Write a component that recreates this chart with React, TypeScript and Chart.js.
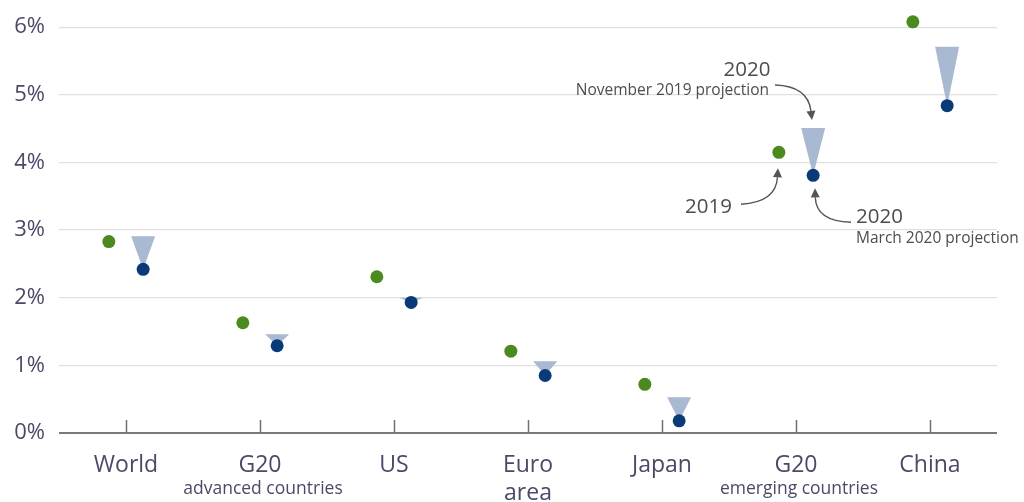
import React, { useEffect, useRef } from 'react';
import { Chart, registerables } from 'chart.js';

Chart.register(...registerables);

const categories: string[][] = [['World'], ['G20'], ['US'], ['Euro', 'area'], ['Japan'], ['G20'], ['China']];
const subLabels: string[] = ['', 'advanced countries', '', '', '', 'emerging countries', ''];
const growth2019: number[] = [2.83, 1.63, 2.31, 1.21, 0.72, 4.15, 6.08];
const projMarch2020: number[] = [2.42, 1.29, 1.93, 0.85, 0.18, 3.81, 4.84];
const projNov2019: number[] = [2.91, 1.46, 2.0, 1.06, 0.53, 4.51, 5.71];
const yTicks: number[] = [0, 1, 2, 3, 4, 5, 6];

const GREEN = '#4b8a1f';
const NAVY = '#0a3a78';
const WEDGE = '#a9b9d1';
const LABEL = '#4a4a68';
const NOTE = '#4d4d4d';
const FONT = "'Open Sans', 'Noto Sans', sans-serif";
const OFF = 0.128;

function arrow(ctx: CanvasRenderingContext2D, sx: number, sy: number, cpx: number, cpy: number, ex: number, ey: number) {
  ctx.save();
  ctx.strokeStyle = '#555';
  ctx.fillStyle = '#555';
  ctx.lineWidth = 1.4;
  const ang = Math.atan2(ey - cpy, ex - cpx);
  const len = 9;
  const bx = ex - Math.cos(ang) * len;
  const by = ey - Math.sin(ang) * len;
  ctx.beginPath();
  ctx.moveTo(sx, sy);
  ctx.quadraticCurveTo(cpx, cpy, bx, by);
  ctx.stroke();
  ctx.beginPath();
  ctx.moveTo(ex, ey);
  ctx.lineTo(bx + Math.sin(ang) * 4.5, by - Math.cos(ang) * 4.5);
  ctx.lineTo(bx - Math.sin(ang) * 4.5, by + Math.cos(ang) * 4.5);
  ctx.closePath();
  ctx.fill();
  ctx.restore();
}

const decorPlugin = {
  id: 'decor',
  beforeDatasetsDraw(chart: any) {
    const { ctx, scales } = chart;
    const xs = scales.x, ys = scales.y;
    ctx.save();
    ctx.fillStyle = WEDGE;
    projNov2019.forEach((v, i) => {
      const xp = xs.getPixelForValue(i + OFF);
      const yTop = ys.getPixelForValue(v);
      const yTip = ys.getPixelForValue(projMarch2020[i]);
      ctx.beginPath();
      ctx.moveTo(xp - 12, yTop);
      ctx.lineTo(xp + 12, yTop);
      ctx.lineTo(xp, yTip);
      ctx.closePath();
      ctx.fill();
    });
    ctx.restore();
  },
  afterDraw(chart: any) {
    const { ctx, scales, chartArea } = chart;
    const xs = scales.x, ys = scales.y;
    ctx.save();
    // tick marks
    ctx.strokeStyle = '#707070';
    ctx.lineWidth = 1.5;
    categories.forEach((_, i) => {
      const p = Math.round(xs.getPixelForValue(i)) + 0.5;
      ctx.beginPath();
      ctx.moveTo(p, chartArea.bottom - 13);
      ctx.lineTo(p, chartArea.bottom);
      ctx.stroke();
    });
    // sub labels
    ctx.fillStyle = LABEL;
    ctx.font = `17.5px ${FONT}`;
    ctx.textAlign = 'center';
    ctx.textBaseline = 'middle';
    subLabels.forEach((s, i) => {
      if (!s) return;
      ctx.fillText(s, xs.getPixelForValue(i) + 3, chartArea.bottom + 56);
    });
    // annotations around G20 emerging
    const k = 5;
    const cx = xs.getPixelForValue(k);
    const yTop = ys.getPixelForValue(projNov2019[k]);
    const yG = ys.getPixelForValue(growth2019[k]);
    const yB = ys.getPixelForValue(projMarch2020[k]);
    ctx.fillStyle = NOTE;
    ctx.font = `20.5px ${FONT}`;
    ctx.textAlign = 'center';
    ctx.fillText('2020', cx - 49, yTop - 58);
    ctx.font = `15.5px ${FONT}`;
    ctx.textAlign = 'right';
    ctx.fillText('November 2019 projection', cx - 27, yTop - 37);
    arrow(ctx, cx - 21, yTop - 43, cx + 12, yTop - 42, cx + 16, yTop - 8);

    ctx.font = `20.5px ${FONT}`;
    ctx.textAlign = 'right';
    ctx.fillText('2019', cx - 64, yG + 55);
    arrow(ctx, cx - 55, yG + 52, cx - 20, yG + 50, cx - 18, yG + 16);

    ctx.textAlign = 'left';
    ctx.fillText('2020', cx + 60, yB + 42);
    ctx.font = `15.5px ${FONT}`;
    ctx.fillText('March 2020 projection', cx + 60, yB + 63);
    arrow(ctx, cx + 55, yB + 47, cx + 20, yB + 46, cx + 19, yB + 13);
    ctx.restore();
  },
};

export default function App() {
  const ref = useRef<HTMLCanvasElement | null>(null);
  useEffect(() => {
    document.body.style.margin = '0';
    const canvas = ref.current!;
    const chart = new Chart(canvas, {
      type: 'scatter',
      data: {
        datasets: [
          {
            label: '2019',
            data: growth2019.map((v, i) => ({ x: i - OFF, y: v })),
            backgroundColor: GREEN,
            borderWidth: 0,
            pointRadius: 6.5,
            clip: false as any,
          },
          {
            label: '2020 (March 2020 projection)',
            data: projMarch2020.map((v, i) => ({ x: i + OFF, y: v })),
            backgroundColor: NAVY,
            borderWidth: 0,
            pointRadius: 6.5,
            clip: false as any,
          },
        ],
      },
      options: {
        responsive: false,
        animation: false,
        layout: { padding: { top: 25, right: 27, left: 0, bottom: 0 } },
        plugins: { legend: { display: false }, tooltip: { enabled: false } },
        scales: {
          x: {
            type: 'linear',
            min: -0.5,
            max: 6.5,
            afterBuildTicks: (s: any) => {
              s.ticks = categories.map((_, i) => ({ value: i }));
            },
            afterFit: (s: any) => {
              s.height = 69;
            },
            grid: { display: false, drawTicks: false, tickLength: 0 },
            border: { display: false },
            ticks: {
              padding: 19,
              maxRotation: 0,
              autoSkip: false,
              color: LABEL,
              font: { family: FONT, size: 23 },
              callback: (v: any) => categories[Math.round(Number(v))] as any,
            },
          },
          y: {
            min: 0,
            max: 6,
            afterBuildTicks: (s: any) => {
              s.ticks = yTicks.map((v) => ({ value: v }));
            },
            afterFit: (s: any) => {
              s.width = 59;
            },
            grid: {
              drawTicks: false,
              color: (c: any) => (c.tick && c.tick.value === 0 ? '#7a7a7a' : '#e0e0e0'),
              lineWidth: (c: any) => (c.tick && c.tick.value === 0 ? 2 : 1.3),
            },
            border: { display: false },
            ticks: {
              padding: 14,
              color: LABEL,
              font: { family: FONT, size: 22 },
              callback: (v: any) => `${v}%`,
            },
          },
        },
      },
      plugins: [decorPlugin],
    });
    return () => chart.destroy();
  }, []);
  return (
    <div style={{ position: 'absolute', left: 0, top: 0, width: 1024, height: 502 }}>
      <canvas ref={ref} width={1024} height={502} style={{ width: 1024, height: 502, display: 'block' }} />
    </div>
  );
}
